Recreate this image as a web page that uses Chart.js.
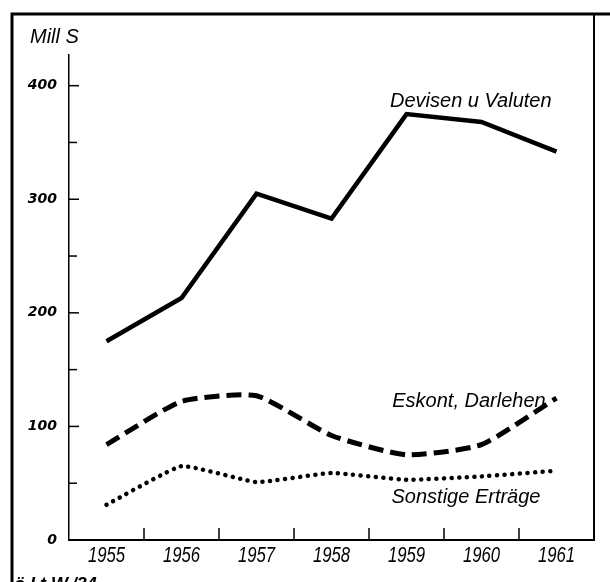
<!DOCTYPE html>
<html>
<head>
<meta charset="utf-8">
<script src="https://cdn.jsdelivr.net/npm/chart.js@4/dist/chart.umd.min.js"></script>
<style>html,body{margin:0;padding:0;background:#fff;}canvas{display:block;}</style>
</head>
<body>
<canvas id="c" width="610" height="582"></canvas>
<script>
const years = ['1955', '1956', '1957', '1958', '1959', '1960', '1961'];
const devisen = [175, 213, 305, 283, 375, 368, 342];
const eskont = [84, 122, 127, 92, 75, 84, 125];
const sonstige = [31, 65, 51, 59, 53, 56, 61];
const seriesNames = ['Devisen u Valuten', 'Eskont, Darlehen', 'Sonstige Erträge'];
const yTickLabels = [0, 100, 200, 300, 400];
const unitLabel = 'Mill S';
const sourceLabel = 'ö.I.t.W./34';

const labelFont = "italic 20px 'Liberation Sans', 'DejaVu Sans', sans-serif";

const decor = {
  id: 'decor',
  afterDraw(chart) {
    const ctx = chart.ctx;
    const xs = chart.scales.x, ys = chart.scales.y;
    const ca = chart.chartArea;
    ctx.save();
    ctx.strokeStyle = '#000';
    ctx.lineCap = 'butt';
    // frame
    ctx.lineWidth = 3;
    ctx.beginPath();
    ctx.moveTo(12, 582); ctx.lineTo(12, 14); ctx.lineTo(610, 14);
    ctx.stroke();
    ctx.lineWidth = 2;
    ctx.beginPath();
    ctx.moveTo(ca.right, 14); ctx.lineTo(ca.right, ca.bottom);
    ctx.stroke();
    // y ticks (inward)
    ctx.lineWidth = 1.5;
    for (let v = 50; v <= 400; v += 50) {
      const py = ys.getPixelForValue(v);
      ctx.beginPath();
      ctx.moveTo(ca.left, py); ctx.lineTo(ca.left + (v % 100 === 0 ? 10 : 8), py);
      ctx.stroke();
    }
    // x ticks (upward, between categories)
    for (let i = 0; i < years.length - 1; i++) {
      const px = (xs.getPixelForValue(i) + xs.getPixelForValue(i + 1)) / 2;
      ctx.beginPath();
      ctx.moveTo(px, ca.bottom); ctx.lineTo(px, ca.bottom - 12);
      ctx.stroke();
    }
    // year labels (condensed italic)
    ctx.fillStyle = '#000';
    ctx.textAlign = 'center';
    ctx.textBaseline = 'alphabetic';
    ctx.font = "italic 22px 'Liberation Sans', 'DejaVu Sans', sans-serif";
    years.forEach((y, i) => {
      const px = xs.getPixelForValue(i);
      ctx.save();
      ctx.translate(px, ca.bottom + 22);
      ctx.scale(0.76, 1);
      ctx.fillText(y, 0, 0);
      ctx.restore();
    });
    // texts
    ctx.font = labelFont;
    ctx.textAlign = 'left';
    ctx.fillText(unitLabel, 30, 43);
    ctx.fillText(seriesNames[0], xs.getPixelForValue(3.78), ys.getPixelForValue(381));
    ctx.fillText(seriesNames[1], xs.getPixelForValue(3.81), ys.getPixelForValue(117));
    ctx.fillText(seriesNames[2], xs.getPixelForValue(3.80), ys.getPixelForValue(33));
    ctx.font = "italic bold 18px 'Liberation Sans', 'DejaVu Sans', sans-serif";
    ctx.fillText(sourceLabel, 14, 590);
    ctx.restore();
  }
};

new Chart(document.getElementById('c'), {
  type: 'line',
  data: {
    labels: years,
    datasets: [
      { label: seriesNames[0], data: devisen, borderColor: '#000', borderWidth: 4.5, tension: 0, borderJoinStyle: 'miter', pointRadius: 0 },
      { label: seriesNames[1], data: eskont, borderColor: '#000', borderWidth: 5, tension: 0.18, borderDash: [15, 7], pointRadius: 0 },
      { label: seriesNames[2], data: sonstige, borderColor: '#000', borderWidth: 4.5, tension: 0.12, borderDash: [0.1, 7.5], borderCapStyle: 'round', pointRadius: 0 }
    ]
  },
  options: {
    responsive: false,
    animation: false,
    layout: { padding: { top: 55, right: 16, left: 0, bottom: 0 } },
    plugins: { legend: { display: false }, tooltip: { enabled: false } },
    scales: {
      x: {
        type: 'category',
        offset: true,
        grid: { display: true, offset: true, drawOnChartArea: false, drawTicks: false },
        border: { display: true, color: '#000', width: 2 },
        ticks: { display: false },
        afterFit(scale) { scale.height = 42; }
      },
      y: {
        min: 0,
        max: 427,
        grid: { display: true, drawOnChartArea: false, drawTicks: false },
        border: { display: true, color: '#000', width: 1.5 },
        ticks: {
          stepSize: 50,
          padding: 12,
          color: '#000',
          font: { family: "'DejaVu Sans', sans-serif", style: 'italic', weight: 'bold', size: 14 },
          callback: (v) => yTickLabels.includes(v) ? String(v) : ''
        },
        afterFit(scale) { scale.width = 69; }
      }
    }
  },
  plugins: [decor]
});
</script>
</body>
</html>
